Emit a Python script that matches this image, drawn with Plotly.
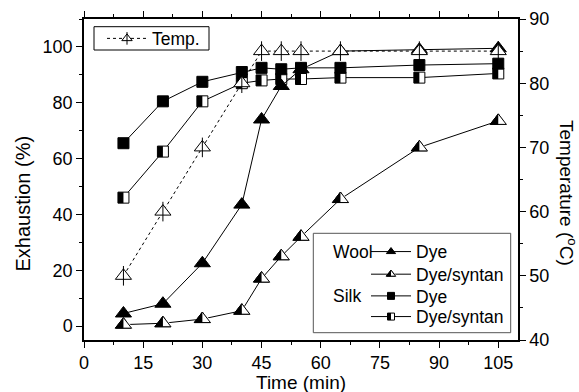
import plotly.graph_objects as go

# ---------------- data ----------------
time_min = [10, 20, 30, 40, 45, 50, 55, 65, 85, 105]
wool_dye = [4.5, 8, 22.5, 43.5, 74, 86, 92, 98.5, 99, 99.5]
wool_dye_syntan = [0.5, 1, 2.5, 5.5, 17, 25, 32, 45.5, 64, 73.5]
silk_dye = [65.5, 80.5, 87.5, 91, 92.5, 92, 92.5, 92.5, 93.5, 94]
silk_dye_syntan = [46, 62.5, 80.5, 87, 88, 88.5, 88.5, 89, 89, 90.5]
temperature = [50, 60, 70, 80, 85, 85, 85, 85, 85, 85]

x_ticks = [0, 15, 30, 45, 60, 75, 90, 105]
y_ticks = [0, 20, 40, 60, 80, 100]
y2_ticks = [40, 50, 60, 70, 80, 90]

# ---------------- layout geometry ----------------
W, H = 579, 392
ML, MR, MT, MB = 84, 61, 19, 52
PW = W - ML - MR
PH = H - MT - MB
X_RANGE = [0, 110]
units_per_px = (X_RANGE[1] - X_RANGE[0]) / PW

TRI = 14   # triangle marker size
SQ = 11    # square marker size
FONT = "Arial, Liberation Sans, sans-serif"

def px_to_paper_x(p):
    return (p - ML) / PW

def px_to_paper_y(p):
    return (H - MB - p) / PH

fig = go.Figure()

# Temperature (right axis), dotted line, open triangles with vertical bar
fig.add_trace(go.Scatter(
    x=time_min, y=temperature, yaxis="y2", mode="lines+markers",
    line=dict(color="black", width=1, dash="dot"),
    marker=dict(symbol="triangle-up", size=TRI, color="white",
                line=dict(color="black", width=1)),
    showlegend=False))
fig.add_trace(go.Scatter(
    x=time_min, y=temperature, yaxis="y2", mode="markers",
    marker=dict(symbol="line-ns-open", size=14, color="black",
                line=dict(color="black", width=1)),
    showlegend=False))

# Silk dye/syntan: half-filled squares
fig.add_trace(go.Scatter(
    x=time_min, y=silk_dye_syntan, mode="lines+markers",
    line=dict(color="black", width=1),
    marker=dict(symbol="square", size=SQ, color="white",
                line=dict(color="black", width=1)),
    showlegend=False))
sq_shift = (SQ / 4) * units_per_px
fig.add_trace(go.Scatter(
    x=[t - sq_shift for t in time_min], y=silk_dye_syntan, mode="markers",
    marker=dict(symbol="line-ns-open", size=SQ / 1.4, color="black",
                line=dict(color="black", width=SQ / 2)),
    showlegend=False))

# Silk dye: filled squares
fig.add_trace(go.Scatter(
    x=time_min, y=silk_dye, mode="lines+markers",
    line=dict(color="black", width=1),
    marker=dict(symbol="square", size=SQ, color="black",
                line=dict(color="black", width=1)),
    showlegend=False))

# Wool dye/syntan: half-filled triangles
fig.add_trace(go.Scatter(
    x=time_min, y=wool_dye_syntan, mode="lines+markers",
    line=dict(color="black", width=1),
    marker=dict(symbol="triangle-up", size=TRI, color="black",
                line=dict(color="black", width=1)),
    showlegend=False))
R = TRI / 2
tri_shift = 0.5 * R * units_per_px
fig.add_trace(go.Scatter(
    x=[t + tri_shift for t in time_min], y=wool_dye_syntan, mode="markers",
    marker=dict(symbol="triangle-sw", size=2 * R / 1.2, color="white",
                line=dict(width=0)),
    showlegend=False))
fig.add_trace(go.Scatter(
    x=time_min, y=wool_dye_syntan, mode="markers",
    marker=dict(symbol="triangle-up-open", size=TRI, color="black",
                line=dict(color="black", width=1)),
    showlegend=False))

# Wool dye: filled triangles
fig.add_trace(go.Scatter(
    x=time_min, y=wool_dye, mode="lines+markers",
    line=dict(color="black", width=1),
    marker=dict(symbol="triangle-up", size=TRI, color="black",
                line=dict(color="black", width=1)),
    showlegend=False))

# ---------------- legend entries ----------------
LEG_FONT = dict(family=FONT, size=17.5, color="black")
legend_common = dict(bgcolor="rgba(0,0,0,0)", borderwidth=0, font=LEG_FONT,
                     xanchor="left", yanchor="middle", itemwidth=40)
layout_legends = {}

def add_legend_entry(leg, name, x_px, y_px, mode, marker, line=None):
    kw = dict(x=[None], y=[None], mode=mode, name=name, legend=leg, marker=marker)
    if line is not None:
        kw["line"] = line
    fig.add_trace(go.Scatter(**kw))
    layout_legends[leg] = dict(x=px_to_paper_x(x_px), y=px_to_paper_y(y_px),
                               **legend_common)

solid = dict(color="black", width=1)
LX = 366
row_y = [251.7, 274.3, 296, 316.7]
TX, TY = 102, 38.5

# base entries
add_legend_entry("legend", "Temp.", TX, TY, "lines+markers",
                 dict(symbol="triangle-up", size=9, color="white",
                      line=dict(color="black", width=1)),
                 dict(color="black", width=1, dash="dot"))
add_legend_entry("legend2", "Dye", LX, row_y[0], "lines+markers",
                 dict(symbol="triangle-up", size=8, color="black",
                      line=dict(color="black", width=1)), solid)
add_legend_entry("legend3", "Dye/syntan", LX, row_y[1], "lines+markers",
                 dict(symbol="triangle-up", size=8, color="black",
                      line=dict(color="black", width=1)), solid)
add_legend_entry("legend4", "Dye", LX, row_y[2], "lines+markers",
                 dict(symbol="square", size=7, color="black",
                      line=dict(color="black", width=1)), solid)
add_legend_entry("legend5", "Dye/syntan", LX, row_y[3], "lines+markers",
                 dict(symbol="square", size=7, color="white",
                      line=dict(color="black", width=1)), solid)
# overlays composing the special legend symbols
add_legend_entry("legend6", " ", TX, TY, "markers",
                 dict(symbol="line-ns-open", size=9, color="black",
                      line=dict(color="black", width=1)))
LR = 4
add_legend_entry("legend7", " ", LX + 0.5 * LR, row_y[1], "markers",
                 dict(symbol="triangle-sw", size=2 * LR / 1.2, color="white",
                      line=dict(width=0)))
add_legend_entry("legend8", " ", LX, row_y[1], "markers",
                 dict(symbol="triangle-up-open", size=8, color="black",
                      line=dict(color="black", width=1)))
add_legend_entry("legend9", " ", LX - 7 / 4, row_y[3], "markers",
                 dict(symbol="line-ns-open", size=7 / 1.4, color="black",
                      line=dict(color="black", width=3.5)))

axis_font = dict(family=FONT, size=18, color="black")

fig.update_layout(
    width=W, height=H,
    margin=dict(l=ML, r=MR, t=MT, b=MB, pad=0, autoexpand=False),
    paper_bgcolor="white", plot_bgcolor="white",
    font=dict(family=FONT, size=18, color="black"),
    showlegend=True,
    xaxis=dict(range=X_RANGE, tickvals=x_ticks, showgrid=False, zeroline=False,
               automargin=False,
               showline=True, linecolor="black", linewidth=1.5, mirror="ticks",
               ticks="outside", ticklen=6, tickwidth=1.2, tickcolor="black",
               tickfont=axis_font,
               minor=dict(dtick=7.5, tick0=0, ticks="outside", ticklen=3,
                          tickcolor="black", tickwidth=1.2, showgrid=False)),
    yaxis=dict(range=[-5, 110], tickvals=y_ticks, showgrid=False, zeroline=False,
               automargin=False,
               showline=True, linecolor="black", linewidth=1.5,
               ticks="outside", ticklen=6, tickwidth=1.2, tickcolor="black",
               tickfont=axis_font,
               minor=dict(dtick=10, tick0=0, ticks="outside", ticklen=3,
                          tickcolor="black", tickwidth=1.2, showgrid=False)),
    yaxis2=dict(range=[40, 90], tickvals=y2_ticks, overlaying="y", side="right",
                automargin=False,
                showgrid=False, zeroline=False, showline=True, linecolor="black",
                linewidth=1.5, ticks="outside", ticklen=6, tickwidth=1.2,
                tickcolor="black", tickfont=axis_font,
                minor=dict(dtick=5, tick0=40, ticks="outside", ticklen=3,
                           tickcolor="black", tickwidth=1.2, showgrid=False)),
    shapes=[
        dict(type="rect", xref="paper", yref="paper",
             x0=px_to_paper_x(94), x1=px_to_paper_x(209),
             y0=px_to_paper_y(50), y1=px_to_paper_y(26.7),
             line=dict(color="black", width=1), fillcolor="rgba(0,0,0,0)", layer="below"),
        dict(type="rect", xref="paper", yref="paper",
             x0=px_to_paper_x(313.3), x1=px_to_paper_x(510.7),
             y0=px_to_paper_y(332.7), y1=px_to_paper_y(233.3),
             line=dict(color="#555555", width=1), fillcolor="white", layer="below"),
    ],
    annotations=[
        dict(text="Exhaustion (%)", xref="paper", yref="paper",
             x=px_to_paper_x(22), y=px_to_paper_y(203.5), textangle=-90,
             showarrow=False, xanchor="center", yanchor="middle",
             font=dict(family=FONT, size=20, color="black")),
        dict(text="Temperature (<sup>o</sup>C)", xref="paper", yref="paper",
             x=px_to_paper_x(568), y=px_to_paper_y(193), textangle=90,
             showarrow=False, xanchor="center", yanchor="middle",
             font=dict(family=FONT, size=19, color="black")),
        dict(text="Time (min)", xref="paper", yref="paper",
             x=px_to_paper_x(300.8), y=px_to_paper_y(382.5),
             showarrow=False, xanchor="center", yanchor="middle",
             font=dict(family=FONT, size=19, color="black")),
        dict(text="Wool", xref="paper", yref="paper",
             x=px_to_paper_x(330.5), y=px_to_paper_y(251.7),
             showarrow=False, xanchor="left", yanchor="middle",
             font=LEG_FONT),
        dict(text="Silk", xref="paper", yref="paper",
             x=px_to_paper_x(330.5), y=px_to_paper_y(296),
             showarrow=False, xanchor="left", yanchor="middle",
             font=LEG_FONT),
    ],
    **layout_legends,
)

fig.write_html("out.html",
               config={"displayModeBar": False},
               post_script="document.body.style.margin='0';"
                           "document.body.style.padding='0';")
